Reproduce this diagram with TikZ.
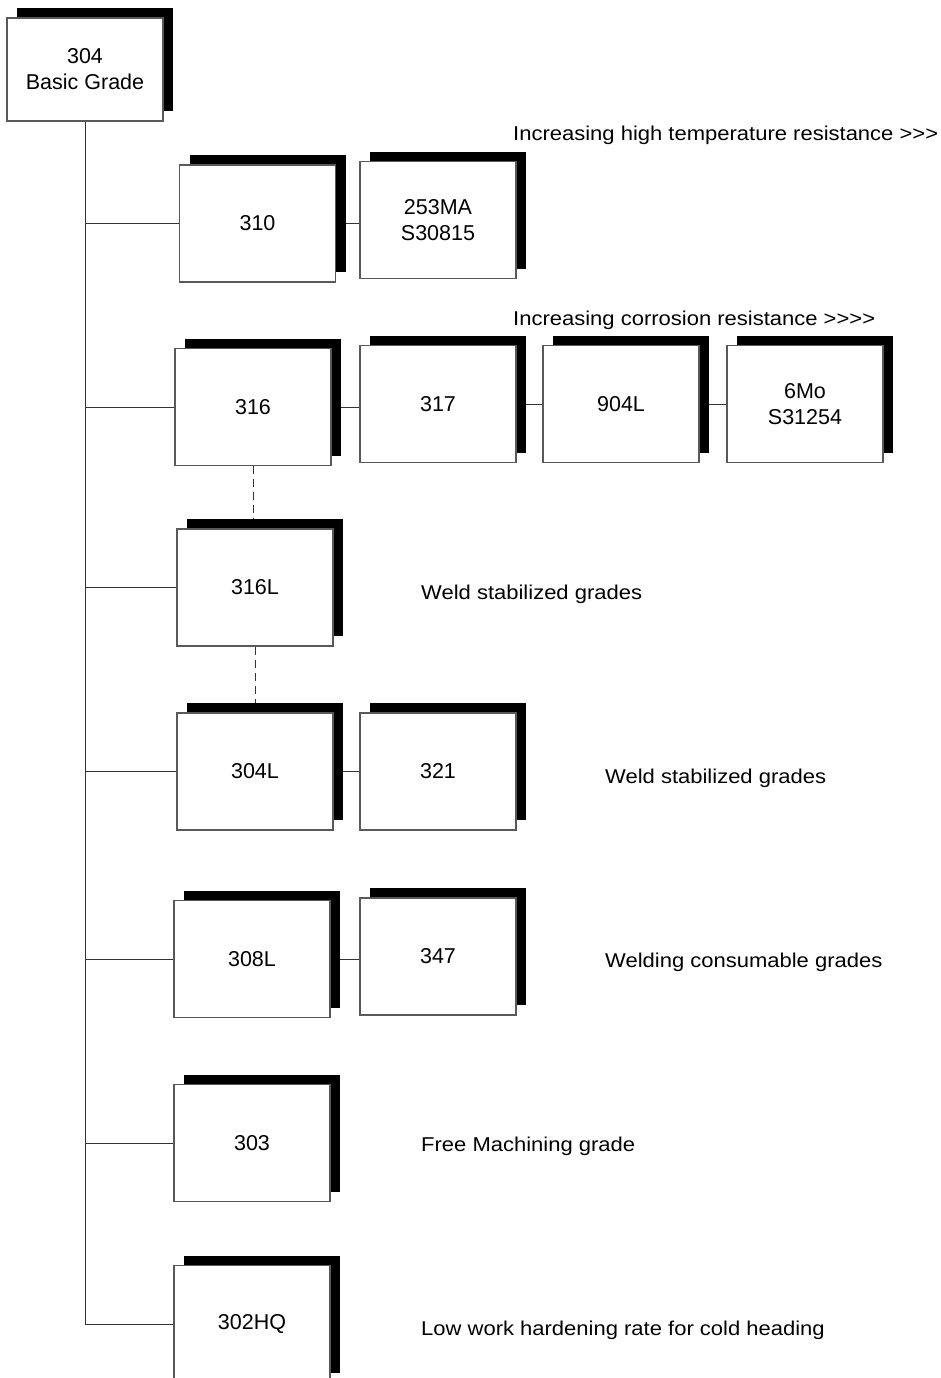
\documentclass[tikz,border=0pt]{standalone}
\usepackage{fontspec}
\usepackage{graphicx}
\setmainfont{Liberation Sans}[Ligatures=TeXOff]
\usetikzlibrary{shadows,backgrounds}
\begin{document}
\begin{tikzpicture}[x=1pt,y=-1pt,
  grade/.style={rectangle, draw=black!65, line width=1.1pt, fill=white,
    minimum width=156pt, minimum height=117pt, inner sep=0pt, align=center,
    font=\fontsize{21.5}{26}\selectfont,
    drop shadow={shadow xshift=10pt, shadow yshift=10pt, fill=black, opacity=1}},
  link/.style={draw=black!80, line width=0.9pt},
  dlink/.style={link, dash pattern=on 8pt off 5pt},
  note/.style={anchor=base west, inner sep=0pt, font=\fontsize{20}{24}\selectfont}]
\useasboundingbox (0,0) rectangle (941,1378);
\clip (0,0) rectangle (941,1378);

% grade boxes
\node[grade, minimum height=103pt] (b304) at (85,69.5) {304\\Basic Grade};
\node[grade] (b310) at (257.5,223.5) {310};
\node[grade] (b253) at (438,220) {253MA\\S30815};
\node[grade] (b316) at (253,407) {316};
\node[grade] (b317) at (438,404) {317};
\node[grade] (b904) at (621,404) {904L};
\node[grade] (b6Mo) at (805,404) {6Mo\\S31254};
\node[grade] (b316L) at (255,587.5) {316L};
\node[grade] (b304L) at (255,771.5) {304L};
\node[grade] (b321) at (438,771.5) {321};
\node[grade] (b308L) at (252,959) {308L};
\node[grade] (b347) at (438,956.5) {347};
\node[grade] (b303) at (252,1143) {303};
\node[grade] (b302HQ) at (252,1324) {302HQ};

% notes
\node[note] (n1) at (513,141) {\scalebox{1.1}[1]{Increasing high temperature resistance {>}\kern0pt{>}\kern0pt{>}}};
\node[note] (n2) at (513,325) {\scalebox{1.1}[1]{Increasing corrosion resistance {>}\kern0pt{>}\kern0pt{>}\kern0pt{>}}};
\node[note] (n3) at (421,599) {\scalebox{1.1}[1]{Weld stabilized grades}};
\node[note] (n4) at (605,783) {\scalebox{1.1}[1]{Weld stabilized grades}};
\node[note] (n5) at (605,967) {\scalebox{1.1}[1]{Welding consumable grades}};
\node[note] (n6) at (421,1151) {\scalebox{1.1}[1]{Free Machining grade}};
\node[note] (n7) at (421,1335) {\scalebox{1.1}[1]{Low work hardening rate for cold heading}};

\begin{scope}[on background layer]
  % trunk
  \draw[link] (b304.south) -- (b304.south |- b302HQ.west) -- (b302HQ.west);
  % branches
  \foreach \b in {b310,b316,b316L,b304L,b308L,b303}
    \draw[link] (b304.south |- \b.west) -- (\b.west);
  % side links
  \draw[link] (b310.east) -- (b310.east -| b253.west);
  \draw[link] (b316.east) -- (b316.east -| b317.west);
  \draw[link] (b317.east) -- (b317.east -| b904.west);
  \draw[link] (b904.east) -- (b904.east -| b6Mo.west);
  \draw[link] (b304L.east) -- (b304L.east -| b321.west);
  \draw[link] (b308L.east) -- (b308L.east -| b347.west);
  % dashed links
  \draw[dlink] (b316.south) -- (b316.south |- b316L.north);
  \draw[dlink] (b316L.south) -- (b316L.south |- b304L.north);
\end{scope}
\end{tikzpicture}
\end{document}
